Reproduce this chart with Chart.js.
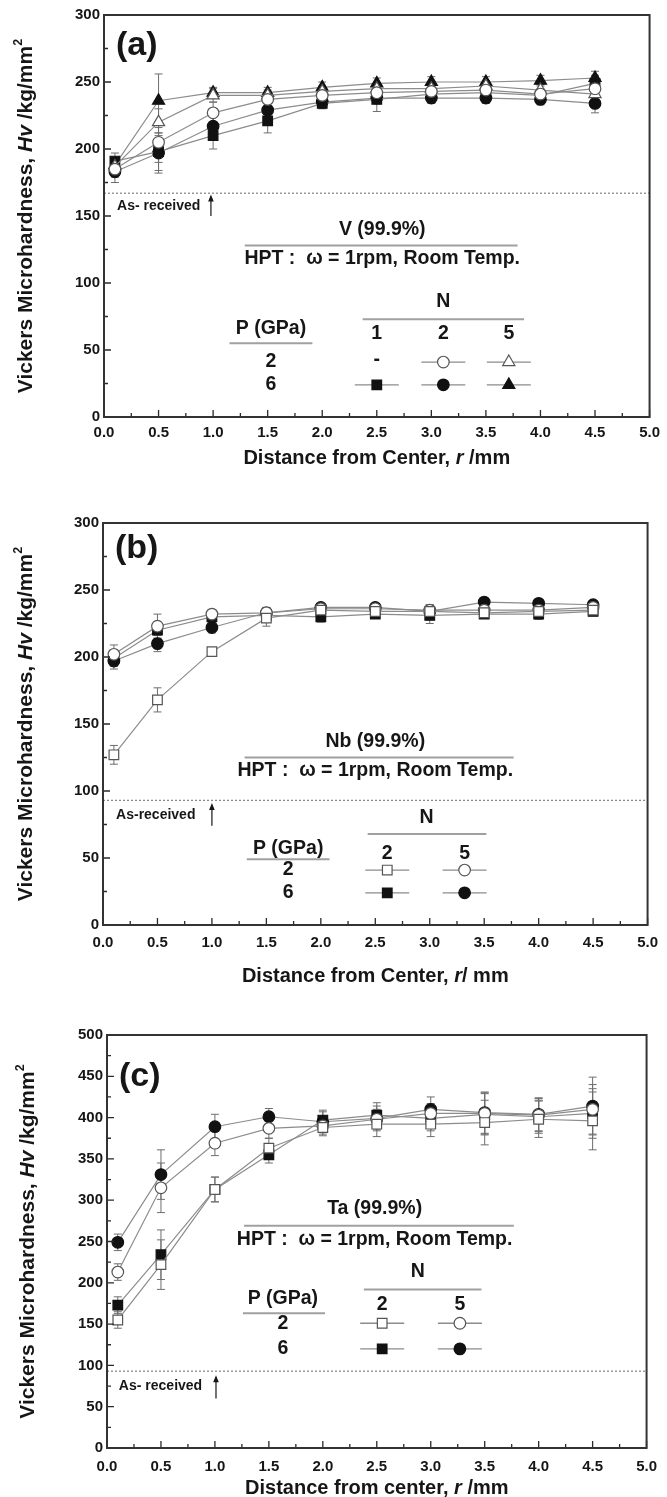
<!DOCTYPE html>
<html><head><meta charset="utf-8">
<script src="https://cdn.jsdelivr.net/npm/chart.js@4.4.1/dist/chart.umd.min.js"></script>
<style>
html,body{margin:0;padding:0;background:#fff;width:667px;height:1497px;overflow:hidden}
.panel{position:absolute;left:0;width:667px}
canvas{display:block}
</style></head><body>
<div class="panel" style="top:0;height:490px"><canvas id="ca" width="667" height="490"></canvas></div>
<div class="panel" style="top:490px;height:520px"><canvas id="cb" width="667" height="520"></canvas></div>
<div class="panel" style="top:1010px;height:487px"><canvas id="cc" width="667" height="487"></canvas></div>
<script>
// ---------- data ----------
const distance = [0.1, 0.5, 1.0, 1.5, 2.0, 2.5, 3.0, 3.5, 4.0, 4.5];
const xTickValues = [0, 0.5, 1.0, 1.5, 2.0, 2.5, 3.0, 3.5, 4.0, 4.5, 5.0];
const yTicks300 = [0, 50, 100, 150, 200, 250, 300];
const yTicks500 = [0, 50, 100, 150, 200, 250, 300, 350, 400, 450, 500];

// (a) V 99.9%
const vP2N2 = [185, 205, 227, 237, 240, 242, 243, 244, 241, 245];
const vP2N2Err = [6, 15, 8, 6, 4, 4, 4, 4, 4, 5];
const vP2N5 = [187, 220, 240, 240, 243, 245, 245, 247, 244, 241];
const vP2N5Err = [6, 10, 5, 4, 4, 4, 4, 4, 4, 5];
const vP6N1 = [191, 198, 210, 221, 234, 237, 241, 242, 240, 249];
const vP6N1Err = [6, 14, 10, 9, 4, 9, 4, 4, 4, 6];
const vP6N2 = [183, 197, 217, 229, 235, 238, 238, 238, 237, 234];
const vP6N2Err = [8, 15, 8, 10, 4, 4, 4, 4, 4, 7];
const vP6N5 = [188, 236, 242, 242, 246, 249, 250, 250, 251, 253];
const vP6N5Err = [5, 20, 4, 4, 4, 4, 4, 4, 4, 5];
const vAsReceived = 167;

// (b) Nb 99.9%
const nbP2N2 = [127, 168, 204, 229, 235, 234, 234, 233, 234, 235];
const nbP2N2Err = [7, 9, 3, 6, 4, 3, 4, 3, 3, 3];
const nbP2N5 = [202, 223, 232, 233, 236, 236, 235, 235, 235, 237];
const nbP2N5Err = [7, 9, 3, 4, 3, 3, 4, 3, 3, 3];
const nbP6N2 = [199, 220, 230, 231, 230, 232, 231, 232, 232, 234];
const nbP6N2Err = [6, 6, 4, 4, 4, 3, 6, 3, 4, 3];
const nbP6N5 = [197, 210, 222, 233, 237, 237, 234, 241, 240, 239];
const nbP6N5Err = [6, 6, 4, 4, 3, 3, 5, 3, 3, 3];
const nbAsReceived = 93;

// (c) Ta 99.9%
const taP2N2 = [155, 222, 313, 363, 388, 392, 392, 394, 398, 396];
const taP2N2Err = [10, 30, 15, 12, 10, 15, 15, 27, 22, 35];
const taP2N5 = [213, 315, 369, 387, 390, 398, 405, 405, 403, 410];
const taP2N5Err = [10, 30, 15, 12, 10, 12, 12, 25, 20, 30];
const taP6N2 = [173, 234, 313, 355, 397, 403, 399, 404, 401, 405];
const taP6N2Err = [10, 30, 15, 10, 12, 15, 15, 25, 20, 30];
const taP6N5 = [249, 331, 389, 401, 395, 399, 410, 406, 404, 414];
const taP6N5Err = [10, 30, 15, 10, 12, 15, 15, 25, 20, 35];
const taAsReceived = 93;

// ---------- drawing helpers ----------
const FONT = '"Liberation Sans", Arial, sans-serif';
const INK = '#161616';
const ANN = 19.5;
function fnt(size, it){ return (it ? 'italic ' : '') + 'bold ' + size + 'px ' + FONT; }

function marker(ctx, shape, filled, x, y, r){
  ctx.save();
  ctx.lineWidth = 1.2;
  ctx.fillStyle = filled ? '#111' : '#fff';
  ctx.strokeStyle = filled ? '#111' : '#555';
  ctx.beginPath();
  if (shape === 'circle') ctx.arc(x, y, r, 0, Math.PI*2);
  else if (shape === 'rect') { const s = Math.SQRT1_2 * r; ctx.rect(x-s, y-s, 2*s, 2*s); }
  else if (shape === 'triangle') {
    let a = 0; ctx.moveTo(x + Math.sin(a)*r, y - Math.cos(a)*r);
    a += 2*Math.PI/3; ctx.lineTo(x + Math.sin(a)*r, y - Math.cos(a)*r);
    a += 2*Math.PI/3; ctx.lineTo(x + Math.sin(a)*r, y - Math.cos(a)*r);
    ctx.closePath();
  }
  ctx.fill(); ctx.stroke();
  ctx.restore();
}
function radiusFor(shape){ return shape === 'rect' ? 6.8 : shape === 'triangle' ? 7 : 5.8; }

function richWidth(ctx, parts, size){
  let w = 0;
  parts.forEach(p => { ctx.font = fnt(p.sup ? size*0.6 : size, p.it); w += ctx.measureText(p.t).width; });
  return w;
}
function drawRich(ctx, parts, size, cx, baseY){
  const w = richWidth(ctx, parts, size);
  let x = cx - w/2;
  ctx.textAlign = 'left'; ctx.textBaseline = 'alphabetic';
  parts.forEach(p => {
    ctx.font = fnt(p.sup ? size*0.6 : size, p.it);
    ctx.fillText(p.t, x, p.sup ? baseY - size*0.5 : baseY);
    x += ctx.measureText(p.t).width;
  });
}

function makeDecor(cfg){
  return {
    id: 'decor',
    beforeDatasetsDraw(chart){
      const ctx = chart.ctx, a = chart.chartArea;
      const X = v => chart.scales.x.getPixelForValue(v);
      const Y = v => chart.scales.y.getPixelForValue(v);
      ctx.save();
      // as-received dotted line
      ctx.strokeStyle = '#8a8a8a'; ctx.lineWidth = 1.3; ctx.setLineDash([2, 2]);
      ctx.beginPath(); ctx.moveTo(a.left, Y(cfg.asRec.y)); ctx.lineTo(a.right, Y(cfg.asRec.y)); ctx.stroke();
      ctx.setLineDash([]);
      ctx.fillStyle = INK; ctx.font = fnt(14); ctx.textAlign = 'left'; ctx.textBaseline = 'middle';
      ctx.fillText(cfg.asRec.text, X(cfg.asRec.tx), Y(cfg.asRec.ty));
      // arrow
      const ax = X(cfg.asRec.ax), y1 = Y(cfg.asRec.a1), y2 = Y(cfg.asRec.a2);
      ctx.strokeStyle = INK; ctx.lineWidth = 1.2;
      ctx.beginPath(); ctx.moveTo(ax, y1); ctx.lineTo(ax, y2 + 4); ctx.stroke();
      ctx.beginPath(); ctx.moveTo(ax, y2); ctx.lineTo(ax - 2.8, y2 + 7); ctx.lineTo(ax + 2.8, y2 + 7); ctx.closePath(); ctx.fill();
      // headline
      const h = cfg.head;
      ctx.textAlign = 'center'; ctx.textBaseline = 'middle'; ctx.fillStyle = INK;
      ctx.font = fnt(ANN); ctx.fillText(h.text, X(h.x), Y(h.y));
      ctx.fillText(h.sub, X(h.x), Y(h.subY));
      ctx.strokeStyle = '#a0a0a0'; ctx.lineWidth = 2;
      const hl = (l) => { ctx.beginPath(); ctx.moveTo(X(l[0]), Y(l[2])); ctx.lineTo(X(l[1]), Y(l[2])); ctx.stroke(); };
      hl(h.line);
      // legend table
      const L = cfg.legend;
      ctx.fillText('N', X(L.nX), Y(L.nY));
      hl(L.nLine);
      ctx.fillText('P (GPa)', X(L.pX), Y(L.pY));
      hl(L.pLine);
      L.cols.forEach((c, i) => ctx.fillText(L.colLabels[i], X(c), Y(L.colY)));
      L.rowYs.forEach((ry, r) => {
        ctx.fillText(L.rowLabels[r], X(L.pX), Y(ry));
        L.cells[r].forEach((cell, c) => {
          const cx = X(L.cols[c]), cy = Y(ry);
          if (!cell) { ctx.fillText('-', cx, cy - 2); return; }
          ctx.strokeStyle = '#8c8c8c'; ctx.lineWidth = 1.3;
          ctx.beginPath(); ctx.moveTo(cx - 22, cy); ctx.lineTo(cx + 22, cy); ctx.stroke();
          marker(ctx, cell.s, cell.f, cx, cy, radiusFor(cell.s));
        });
      });
      // error bars
      ctx.strokeStyle = '#6e6e6e'; ctx.lineWidth = 1;
      cfg.series.forEach(s => {
        s.vals.forEach((v, j) => {
          const x = X(distance[j]), yt = Y(v + s.err[j]), yb = Y(v - s.err[j]);
          ctx.beginPath();
          ctx.moveTo(x, yt); ctx.lineTo(x, yb);
          ctx.moveTo(x - 4, yt); ctx.lineTo(x + 4, yt);
          ctx.moveTo(x - 4, yb); ctx.lineTo(x + 4, yb);
          ctx.stroke();
        });
      });
      ctx.restore();
    },
    afterDraw(chart){
      const ctx = chart.ctx, a = chart.chartArea;
      const xs = chart.scales.x, ys = chart.scales.y;
      ctx.save();
      ctx.strokeStyle = '#2a2a2a'; ctx.lineWidth = 1.3;
      // ticks (inward), major and minor
      const xt = xTickValues, yt = cfg.yTicks;
      ctx.beginPath();
      xt.forEach((v, i) => {
        const x = xs.getPixelForValue(v);
        ctx.moveTo(x, a.bottom); ctx.lineTo(x, a.bottom - 7);
        if (i < xt.length - 1) { const m = xs.getPixelForValue((v + xt[i+1]) / 2); ctx.moveTo(m, a.bottom); ctx.lineTo(m, a.bottom - 4); }
      });
      yt.forEach((v, i) => {
        const y = ys.getPixelForValue(v);
        ctx.moveTo(a.left, y); ctx.lineTo(a.left + 7, y);
        if (i < yt.length - 1) { const m = ys.getPixelForValue((v + yt[i+1]) / 2); ctx.moveTo(a.left, m); ctx.lineTo(a.left + 4, m); }
      });
      ctx.stroke();
      // frame
      ctx.lineWidth = 2; ctx.strokeStyle = '#333';
      ctx.strokeRect(a.left, a.top, a.right - a.left, a.bottom - a.top);
      // panel letter
      ctx.fillStyle = INK; ctx.font = fnt(34); ctx.textAlign = 'left'; ctx.textBaseline = 'middle';
      ctx.fillText(cfg.letter, a.left + 12, a.top + cfg.letterDy);
      // axis titles
      drawRich(ctx, cfg.xTitle, 20, (a.left + a.right) / 2, cfg.xTitleBase);
      ctx.translate(cfg.yTitleX, (a.top + a.bottom) / 2);
      ctx.rotate(-Math.PI / 2);
      drawRich(ctx, [{t:'Vickers Microhardness, '}, {t:'Hv', it:true}, {t:' /kg/mm'}, {t:'2', sup:true}], 21, 0, 8);
      ctx.restore();
    }
  };
}

function makePanel(id, cfg){
  const datasets = cfg.series.map(s => ({
    label: s.label,
    data: distance.map((x, i) => ({x, y: s.vals[i]})),
    borderColor: '#8c8c8c', borderWidth: 1.2, tension: 0, fill: false,
    pointStyle: s.shape, pointRadius: radiusFor(s.shape), pointHoverRadius: radiusFor(s.shape),
    pointBackgroundColor: s.filled ? '#111' : '#fff',
    pointBorderColor: s.filled ? '#111' : '#555', pointBorderWidth: 1.2
  }));
  new Chart(document.getElementById(id), {
    type: 'line',
    data: {datasets},
    options: {
      responsive: false, animation: false, events: [],
      layout: {autoPadding: false, padding: {left: 0, right: cfg.padRight, top: cfg.padTop, bottom: 0}},
      plugins: {legend: {display: false}, tooltip: {enabled: false}, title: {display: false}},
      scales: {
        x: {
          type: 'linear', min: 0, max: 5,
          afterBuildTicks: ax => { ax.ticks = xTickValues.map(v => ({value: v})); },
          ticks: {callback: v => v.toFixed(1), color: INK, font: {family: FONT, size: 15, weight: 'bold'}, padding: cfg.xPad, maxRotation: 0, autoSkip: false},
          grid: {display: false, drawTicks: false}, border: {display: false},
          afterFit: ax => { ax.height = cfg.xScaleH; }
        },
        y: {
          type: 'linear', min: 0, max: cfg.yMax,
          afterBuildTicks: ax => { ax.ticks = cfg.yTicks.map(v => ({value: v})); },
          ticks: {color: INK, font: {family: FONT, size: 15, weight: 'bold'}, padding: 4, autoSkip: false},
          grid: {display: false, drawTicks: false}, border: {display: false},
          afterFit: ax => { ax.width = cfg.left; }
        }
      }
    },
    plugins: [makeDecor(cfg)]
  });
}

makePanel('ca', {
  left: 104, padRight: 9, padTop: 15, xScaleH: 73, xPad: 7, yMax: 300, yTicks: yTicks300,
  letter: '(a)', letterDy: 31, yTitleX: 24, xTitleBase: 464,
  xTitle: [{t:'Distance from Center, '}, {t:'r', it:true}, {t:' /mm'}],
  series: [
    {label:'2 GPa, N=2', vals:vP2N2, err:vP2N2Err, shape:'circle', filled:false},
    {label:'2 GPa, N=5', vals:vP2N5, err:vP2N5Err, shape:'triangle', filled:false},
    {label:'6 GPa, N=1', vals:vP6N1, err:vP6N1Err, shape:'rect', filled:true},
    {label:'6 GPa, N=2', vals:vP6N2, err:vP6N2Err, shape:'circle', filled:true},
    {label:'6 GPa, N=5', vals:vP6N5, err:vP6N5Err, shape:'triangle', filled:true}
  ],
  asRec: {y: vAsReceived, text: 'As- received', tx: 0.12, ty: 157, ax: 0.98, a1: 150, a2: 166},
  head: {text: 'V (99.9%)', x: 2.55, y: 140, line: [1.29, 3.79, 128], sub: 'HPT :  \u03c9 = 1rpm, Room Temp.', subY: 118},
  legend: {nX: 3.11, nY: 86, nLine: [2.37, 3.85, 73], pX: 1.53, pY: 66, pLine: [1.15, 1.91, 55],
    cols: [2.50, 3.11, 3.71], colLabels: ['1', '2', '5'], colY: 62, rowYs: [41, 24], rowLabels: ['2', '6'],
    cells: [[null, {s:'circle', f:false}, {s:'triangle', f:false}], [{s:'rect', f:true}, {s:'circle', f:true}, {s:'triangle', f:true}]]}
});

makePanel('cb', {
  left: 103, padRight: 10, padTop: 33, xScaleH: 85, xPad: 9, yMax: 300, yTicks: yTicks300,
  letter: '(b)', letterDy: 26, yTitleX: 24, xTitleBase: 492,
  xTitle: [{t:'Distance from Center, '}, {t:'r', it:true}, {t:'/ mm'}],
  series: [
    {label:'2 GPa, N=2', vals:nbP2N2, err:nbP2N2Err, shape:'rect', filled:false},
    {label:'2 GPa, N=5', vals:nbP2N5, err:nbP2N5Err, shape:'circle', filled:false},
    {label:'6 GPa, N=2', vals:nbP6N2, err:nbP6N2Err, shape:'rect', filled:true},
    {label:'6 GPa, N=5', vals:nbP6N5, err:nbP6N5Err, shape:'circle', filled:true}
  ],
  asRec: {y: nbAsReceived, text: 'As-received', tx: 0.12, ty: 82, ax: 1.0, a1: 74, a2: 91},
  head: {text: 'Nb (99.9%)', x: 2.50, y: 137, line: [1.30, 3.77, 125], sub: 'HPT :  \u03c9 = 1rpm, Room Temp.', subY: 115},
  legend: {nX: 2.97, nY: 80, nLine: [2.43, 3.52, 68], pX: 1.70, pY: 57, pLine: [1.32, 2.08, 49],
    cols: [2.61, 3.32], colLabels: ['2', '5'], colY: 53, rowYs: [41, 24], rowLabels: ['2', '6'],
    cells: [[{s:'rect', f:false}, {s:'circle', f:false}], [{s:'rect', f:true}, {s:'circle', f:true}]]}
});

makePanel('cc', {
  left: 107, padRight: 6, padTop: 25, xScaleH: 49, xPad: 10, yMax: 500, yTicks: yTicks500,
  letter: '(c)', letterDy: 42, yTitleX: 26, xTitleBase: 484,
  xTitle: [{t:'Distance from center, '}, {t:'r', it:true}, {t:' /mm'}],
  series: [
    {label:'2 GPa, N=2', vals:taP2N2, err:taP2N2Err, shape:'rect', filled:false},
    {label:'2 GPa, N=5', vals:taP2N5, err:taP2N5Err, shape:'circle', filled:false},
    {label:'6 GPa, N=2', vals:taP6N2, err:taP6N2Err, shape:'rect', filled:true},
    {label:'6 GPa, N=5', vals:taP6N5, err:taP6N5Err, shape:'circle', filled:true}
  ],
  asRec: {y: taAsReceived, text: 'As- received', tx: 0.11, ty: 75, ax: 1.01, a1: 60, a2: 88},
  head: {text: 'Ta (99.9%)', x: 2.48, y: 290, line: [1.27, 3.77, 269], sub: 'HPT :  \u03c9 = 1rpm, Room Temp.', subY: 252},
  legend: {nX: 2.88, nY: 213, nLine: [2.38, 3.47, 192], pX: 1.63, pY: 181, pLine: [1.26, 2.02, 163],
    cols: [2.55, 3.27], colLabels: ['2', '5'], colY: 174, rowYs: [151, 120], rowLabels: ['2', '6'],
    cells: [[{s:'rect', f:false}, {s:'circle', f:false}], [{s:'rect', f:true}, {s:'circle', f:true}]]}
});
</script>
</body></html>
